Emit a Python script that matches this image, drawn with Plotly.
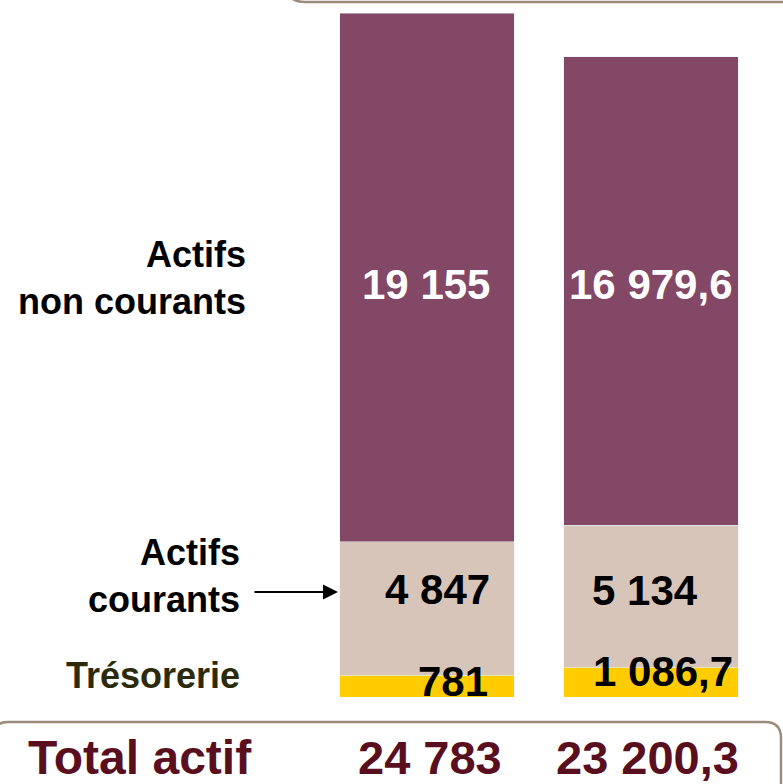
import plotly.graph_objects as go

# ---- data ----
categories = ["Exercice 1", "Exercice 2"]
tresorerie = [781, 1086.7]
actifs_courants = [4847, 5134]
actifs_non_courants = [19155, 16979.6]
lbl_tresorerie = ["781", "1 086,7"]
lbl_courants = ["4 847", "5 134"]
lbl_non_courants = ["19 155", "16 979,6"]
lbl_totaux = ["24 783", "23 200,3"]

W, H = 783, 784
ML, MR, MT, MB = 315, 20, 13, 87
PW, PH = W - ML - MR, H - MT - MB
Y0 = H - MB  # pixel of zero


def px(x):
    return (x - ML) / PW


def py(y):
    return (Y0 - y) / PH


PURPLE = "#834865"
BEIGE = "#d8c5ba"
YELLOW = "#ffcc00"
MAROON = "#5a0f1e"
BORDER = "#9d8b7c"
FONT = "Liberation Sans, Arial, sans-serif"

fig = go.Figure()
fig.add_bar(x=categories, y=tresorerie, marker_color=YELLOW, name="Trésorerie",
            width=0.777, hoverinfo="skip")
fig.add_bar(x=categories, y=actifs_courants, marker_color=BEIGE, name="Actifs courants",
            width=0.777, hoverinfo="skip")
fig.add_bar(x=categories, y=actifs_non_courants, marker_color=PURPLE,
            name="Actifs non courants", width=0.777, hoverinfo="skip")

total = [a + b + c for a, b, c in zip(tresorerie, actifs_courants, actifs_non_courants)]

ann = []
# value labels inside bars
nc_shift = [(-1, -7), (0, 7)]
c_shift = [(10, 19), (-6, 6)]
t_shift = [(26, 5), (12, 11)]
for i, cat in enumerate(categories):
    base_c = tresorerie[i]
    base_nc = tresorerie[i] + actifs_courants[i]
    ann.append(dict(x=cat, y=base_nc + actifs_non_courants[i] / 2, xref="x", yref="y",
                    yanchor="middle", text=lbl_non_courants[i], showarrow=False,
                    xshift=nc_shift[i][0], yshift=nc_shift[i][1],
                    font=dict(family=FONT, size=42, color="white", weight="bold")))
    ann.append(dict(x=cat, y=base_c + actifs_courants[i] / 2, xref="x", yref="y",
                    yanchor="middle", text=lbl_courants[i], showarrow=False,
                    xshift=c_shift[i][0], yshift=c_shift[i][1],
                    font=dict(family=FONT, size=42, color="black", weight="bold")))
    ann.append(dict(x=cat, y=tresorerie[i] / 2, xref="x", yref="y",
                    yanchor="middle", text=lbl_tresorerie[i], showarrow=False,
                    xshift=t_shift[i][0], yshift=t_shift[i][1],
                    font=dict(family=FONT, size=42, color="black", weight="bold")))
    ann.append(dict(x=cat, y=py(757), xref="x", yref="paper", yanchor="middle",
                    text=lbl_totaux[i], showarrow=False, borderpad=0,
                    xshift=[3, -4][i],
                    font=dict(family=FONT, size=47, color=MAROON, weight="bold")))

# left labels
ann.append(dict(x=px(248), y=py(278), xref="paper", yref="paper", xanchor="right",
                yanchor="middle", align="right", text="Actifs<br>non courants",
                showarrow=False,
                font=dict(family=FONT, size=36, color="black", weight="bold")))
ann.append(dict(x=px(242), y=py(576), xref="paper", yref="paper", xanchor="right",
                yanchor="middle", align="right", text="Actifs<br>courants",
                showarrow=False,
                font=dict(family=FONT, size=36, color="black", weight="bold")))
ann.append(dict(x=px(242), y=py(675), xref="paper", yref="paper", xanchor="right",
                yanchor="middle", align="right", text="Trésorerie", showarrow=False,
                font=dict(family=FONT, size=36, color="#2b2b0c", weight="bold")))
ann.append(dict(x=px(140), y=py(757), xref="paper", yref="paper", xanchor="center",
                yanchor="middle", text="Total actif", showarrow=False, borderpad=0,
                font=dict(family=FONT, size=48, color=MAROON, weight="bold")))
# arrow
ann.append(dict(x=px(338), y=py(592), xref="paper", yref="paper", ax=-85, ay=0,
                axref="pixel", ayref="pixel", text="", showarrow=True,
                arrowhead=2, arrowsize=1.5, arrowwidth=2, arrowcolor="black"))


def P(x, y):
    return f"{px(x)},{py(y)}"


shapes = [
    dict(type="path", xref="paper", yref="paper",
         path=f"M {P(285, -20)} Q {P(285, 2)} {P(305, 2)} L {P(800, 2)}",
         line=dict(color=BORDER, width=2.5)),
    dict(type="path", xref="paper", yref="paper",
         path=f"M {P(-10, 745)} Q {P(-10, 722)} {P(8, 722)} L {P(765, 722)} "
              f"Q {P(781, 722)} {P(781, 738)} L {P(781, 800)}",
         line=dict(color=BORDER, width=2.5)),
]

fig.update_layout(
    barmode="stack",
    width=W, height=H,
    margin=dict(l=ML, r=MR, t=MT, b=MB, pad=0),
    paper_bgcolor="white", plot_bgcolor="white",
    showlegend=False,
    xaxis=dict(visible=False, range=[-0.5, 1.5]),
    yaxis=dict(visible=False, range=[0, total[0]]),
    annotations=ann,
    shapes=shapes,
)

fig.write_html("out.html", config={"displayModeBar": False},
               post_script="document.body.style.margin='0px';document.body.style.overflow='hidden';")
